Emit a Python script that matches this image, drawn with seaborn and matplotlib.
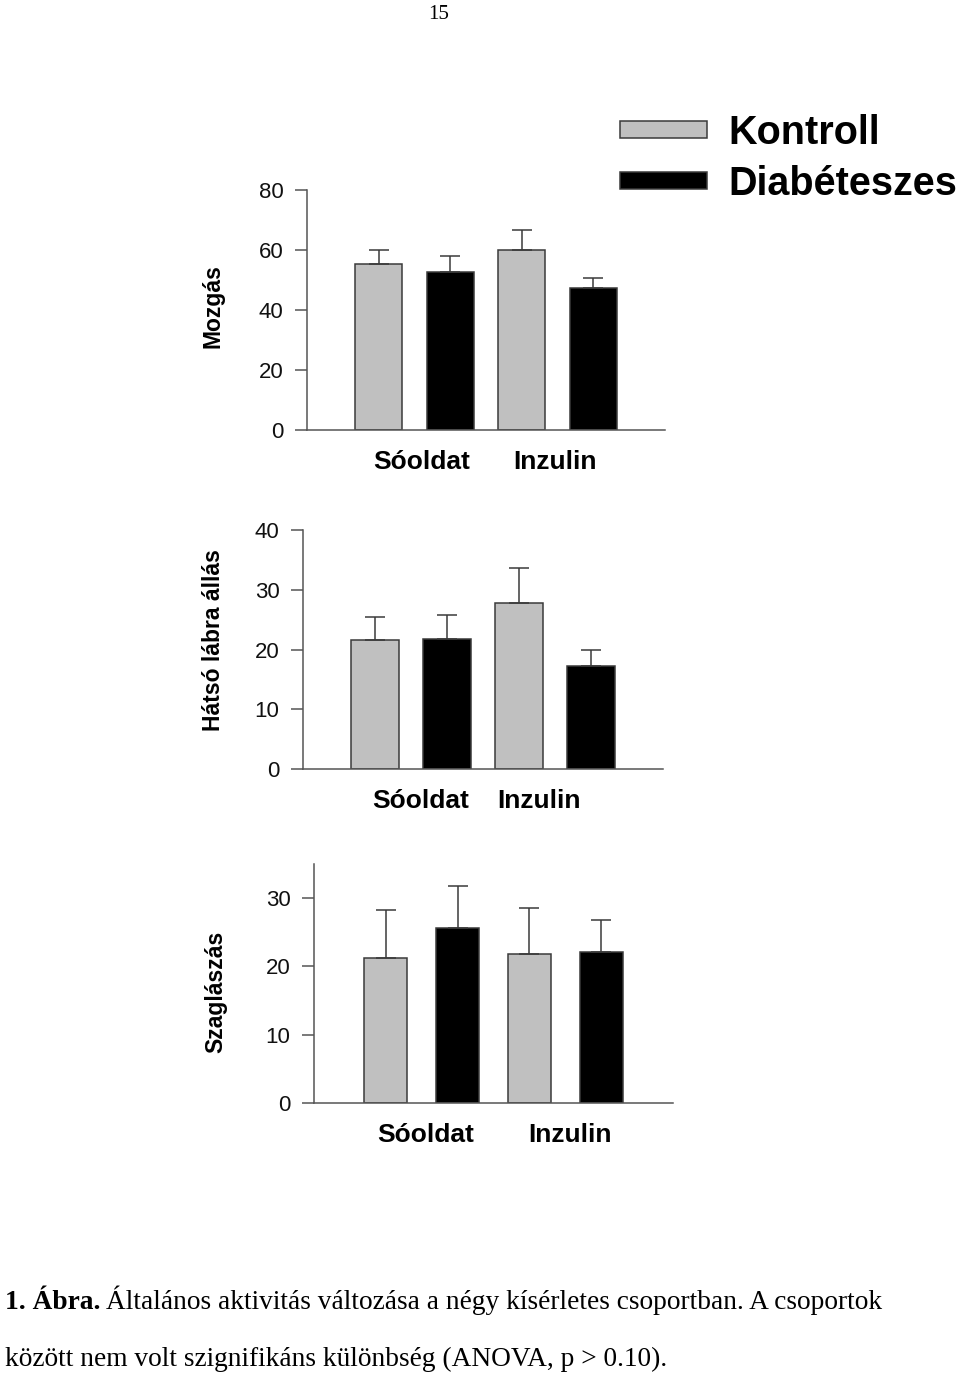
import numpy as np
import pandas as pd
import matplotlib
matplotlib.use("Agg")
import matplotlib.pyplot as plt
import seaborn as sns

# Data (means and upward SEM bars)
groups = ["Sóoldat", "Inzulin"]
conditions = ["Kontroll", "Diabéteszes"]

mozgas_kontroll = [55.2, 60.0]
mozgas_diab = [52.6, 47.2]
mozgas_kontroll_err = [4.9, 6.7]
mozgas_diab_err = [5.4, 3.6]

hatso_kontroll = [21.6, 27.7]
hatso_diab = [21.7, 17.2]
hatso_kontroll_err = [3.8, 6.0]
hatso_diab_err = [4.0, 2.7]

szag_kontroll = [21.2, 21.8]
szag_diab = [25.7, 22.1]
szag_kontroll_err = [7.0, 6.8]
szag_diab_err = [6.1, 4.7]

panels = [
    ("Mozgás", mozgas_kontroll, mozgas_diab, mozgas_kontroll_err, mozgas_diab_err, 80, [0, 20, 40, 60, 80]),
    ("Hátsó lábra állás", hatso_kontroll, hatso_diab, hatso_kontroll_err, hatso_diab_err, 40, [0, 10, 20, 30, 40]),
    ("Szaglászás", szag_kontroll, szag_diab, szag_kontroll_err, szag_diab_err, 35, [0, 10, 20, 30]),
]

sns.set_style("ticks")
plt.rcParams["font.family"] = ["Liberation Sans", "DejaVu Sans"]
plt.rcParams["text.color"] = "black"
plt.rcParams["xtick.labelcolor"] = "black"
plt.rcParams["ytick.labelcolor"] = "black"

W, H = 960, 1381
fig = plt.figure(figsize=(W / 100, H / 100), dpi=100)

# axes boxes in pixels: left, top, right, bottom
boxes = [(307, 190, 665, 430), (303, 530, 663, 769), (314, 864, 673, 1103)]
gaps = [0.34, 0.33, 0.40]
ylabel_pos = [(213, 306), (214, 640), (216, 992)]
# group label positions (the labels are not exactly centred under the bars)
xlabel_ticks = [[0.05, 0.98], [0.065, 0.89], [0.03, 1.03]]

gray = "#c0c0c0"
edge = "#3a3a3a"
palette = {"Kontroll": gray, "Diabéteszes": "black"}

legend_handles = None
for (label, kon, dia, kon_err, dia_err, ytop, yticks), box, gap, lp, xt in zip(
        panels, boxes, gaps, ylabel_pos, xlabel_ticks):
    l, t, r, b = box
    ax = fig.add_axes([l / W, 1 - b / H, (r - l) / W, (b - t) / H])
    df = pd.DataFrame({
        "csoport": groups * 2,
        "allapot": [conditions[0]] * 2 + [conditions[1]] * 2,
        "ertek": kon + dia,
    })
    sns.barplot(data=df, x="csoport", y="ertek", hue="allapot", hue_order=conditions,
                palette=palette, width=1.0, gap=gap, errorbar=None,
                edgecolor=edge, linewidth=1.1, ax=ax, legend=True)
    for cont, errs in zip(ax.containers, [kon_err, dia_err]):
        xs = [p.get_x() + p.get_width() / 2 for p in cont]
        ys = [p.get_height() for p in cont]
        ax.errorbar(xs, ys, yerr=[np.zeros(len(errs)), errs], fmt="none",
                    ecolor=edge, elinewidth=1.1, capsize=7, capthick=1.1, zorder=5)
    if legend_handles is None:
        legend_handles, legend_labels = ax.get_legend_handles_labels()
    ax.get_legend().remove()

    ax.set_xlim(-0.75, 1.75)
    ax.set_ylim(0, ytop)
    ax.set_yticks(yticks)
    ax.set_xticks(xt)
    ax.set_xticklabels(groups)
    ax.set_xlabel("")
    ax.set_ylabel("")
    sns.despine(ax=ax)
    for s in ["left", "bottom"]:
        ax.spines[s].set_color("#555555")
        ax.spines[s].set_linewidth(1.1)
    ax.tick_params(axis="y", length=9, width=1.1, color="#555555", pad=8,
                   labelsize=16, labelcolor="#111111")
    ax.tick_params(axis="x", length=0, pad=14.5, labelsize=19)
    for tl in ax.get_xticklabels():
        tl.set_fontweight("bold")
    fig.text(lp[0] / W, 1 - lp[1] / H, label, rotation=90, ha="center", va="center",
             fontsize=16.5, fontweight="bold")

# legend at top right
fig.legend(legend_handles, legend_labels, loc="upper left",
           bbox_to_anchor=(596 / W, 1 - 90 / H), frameon=False,
           prop={"size": 28.5, "weight": "bold"}, handlelength=2.2,
           handleheight=0.28, handletextpad=0.55, labelspacing=0.33, borderpad=0.1)

# page number
fig.text(439 / W, 1 - 19 / H, "15", ha="center", va="baseline",
         fontsize=15, family="Liberation Serif")

# caption
renderer = fig.canvas.get_renderer()
t1 = fig.text(5 / W, 1 - 1309 / H, "1. Ábra.", ha="left", va="baseline",
              fontsize=19.7, fontweight="bold", family="Liberation Serif")
bb = t1.get_window_extent(renderer)
fig.text((bb.x1 + 6) / W, 1 - 1309 / H,
         "Általános aktivitás változása a négy kísérletes csoportban. A csoportok",
         ha="left", va="baseline", fontsize=19.7, family="Liberation Serif")
fig.text(5 / W, 1 - 1366 / H,
         "között nem volt szignifikáns különbség (ANOVA, p > 0.10).",
         ha="left", va="baseline", fontsize=19.7, family="Liberation Serif")

fig.savefig("out.png", dpi=100)
